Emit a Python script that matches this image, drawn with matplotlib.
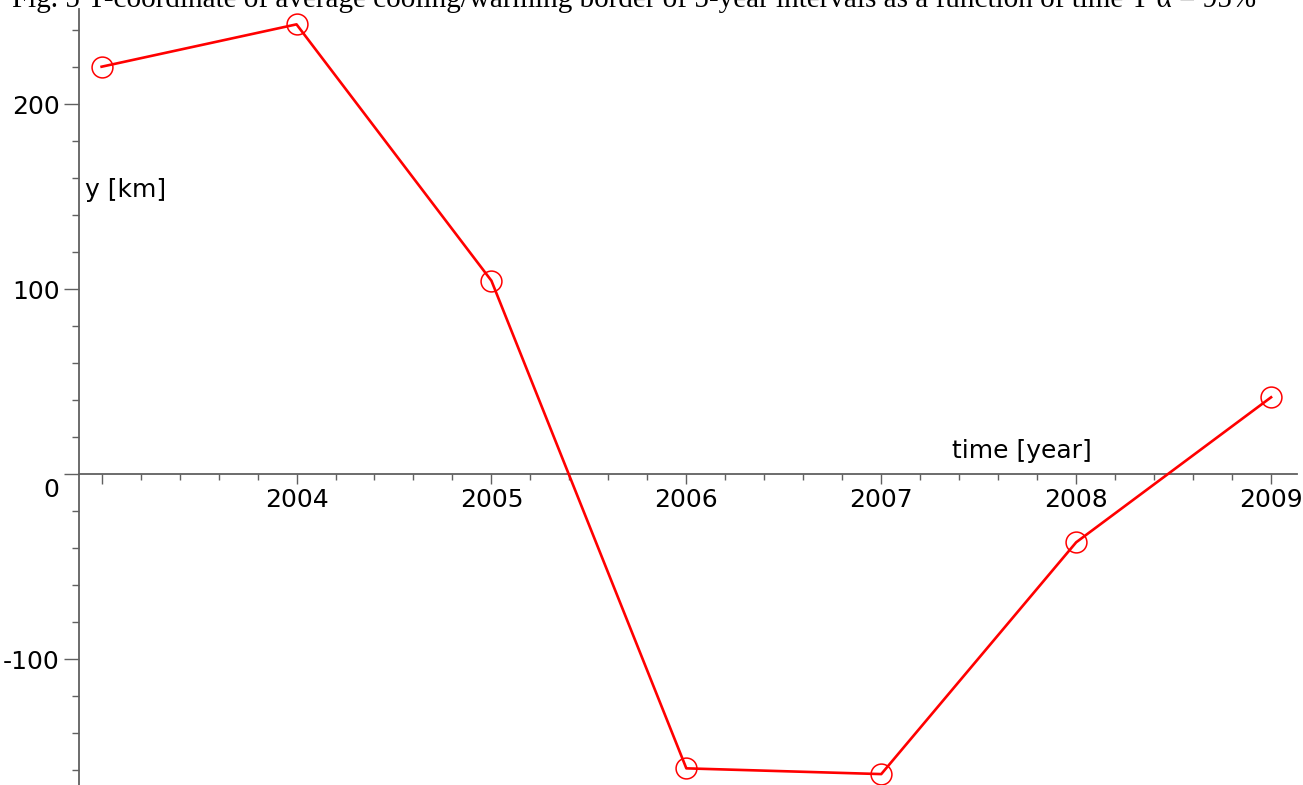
import matplotlib
matplotlib.use("Agg")
import matplotlib.pyplot as plt
from matplotlib.ticker import MultipleLocator
import matplotlib.transforms as mtransforms

title = ("Fig. 5 Y-coordinate of average cooling/warming border of 5-year "
         "intervals as a function of time Y \u03b1 = 95%")
years = [2003, 2004, 2005, 2006, 2007, 2008, 2009]
y_km = [220.2, 243.1, 104.5, -159.1, -162.2, -36.9, 41.5]
x_ticks = [2003, 2004, 2005, 2006, 2007, 2008, 2009]
x_tick_labels = ["", "2004", "2005", "2006", "2007", "2008", "2009"]
y_ticks = [-100, 0, 100, 200]
y_tick_labels = ["-100", "0", "100", "200"]

axis_col = "#606060"
red = "#ff0000"
plt.rcParams['font.family'] = ['DejaVu Sans']

fig = plt.figure(figsize=(13.03, 7.85), dpi=100)
ax = fig.add_axes([79 / 1303, 0, 1218 / 1303, 776 / 785])

ax.plot(years, y_km, color=red, lw=1.9, marker="o", ms=15,
        mfc="none", mec=red, mew=1.1, clip_on=False, zorder=3)

ax.set_xlim(2002.884, 2009.133)
ax.set_ylim(-168.1, 251.4)

# maple style axes: y axis on the left, x axis through zero
ax.spines["top"].set_visible(False)
ax.spines["right"].set_visible(False)
ax.spines["bottom"].set_position(("data", 0))
for s in ["left", "bottom"]:
    ax.spines[s].set_color(axis_col)
    ax.spines[s].set_linewidth(1.3)

ax.set_xticks(x_ticks, labels=x_tick_labels)
ax.set_yticks(y_ticks, labels=y_tick_labels)
ax.xaxis.set_minor_locator(MultipleLocator(0.2))
ax.yaxis.set_minor_locator(MultipleLocator(20))

ax.tick_params(axis="x", which="major", direction="out", length=7, width=1,
               color=axis_col, labelsize=18, pad=3)
ax.tick_params(axis="x", which="minor", direction="out", length=4, width=1,
               color=axis_col)
ax.tick_params(axis="y", which="major", direction="out", length=11, width=1,
               color=axis_col, labelsize=18, pad=3)
ax.tick_params(axis="y", which="minor", direction="out", length=5, width=1,
               color=axis_col)

# the "0" label sits a bit below the x axis
zero_lab = ax.get_yticklabels()[1]
zero_lab.set_transform(zero_lab.get_transform() +
                       mtransforms.ScaledTranslation(0, -13 / 100, fig.dpi_scale_trans))

ax.text(2002.915, 149.7, "y [km]", fontsize=18, ha="left", va="baseline")
ax.text(2007.365, 8.6, "time [year]", fontsize=18, ha="left", va="baseline")

fig.text(12 / 1303, 1 - 7 / 785, title, family="Liberation Serif",
         fontsize=21, ha="left", va="baseline")

fig.savefig("out.png", dpi=100)
